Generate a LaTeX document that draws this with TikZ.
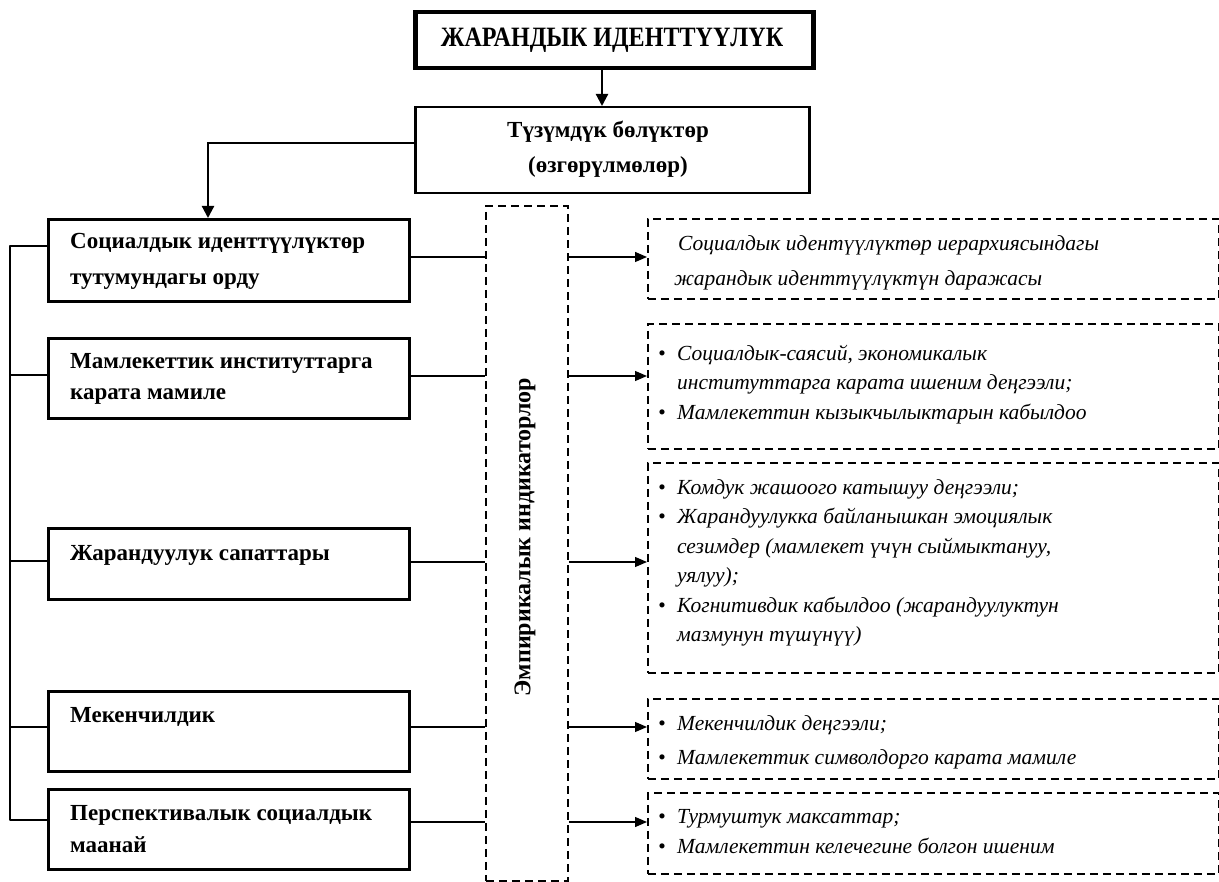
\documentclass[tikz,border=0pt]{standalone}
\usepackage{fontspec}
\setmainfont{Liberation Serif}
\usetikzlibrary{arrows.meta}
\newcommand\myblt{\makebox[19pt][l]{•}}
\newcommand\myind{\hspace*{19pt}}
\begin{document}
\begin{tikzpicture}[x=1pt,y=-1pt,
  titlebox/.style={draw, line width=4.5pt, anchor=north west, inner sep=0pt},
  subbox/.style={draw, line width=2.5pt, anchor=north west, inner sep=0pt},
  lbox/.style={draw, line width=3.2pt, anchor=north west, inner sep=0pt},
  dbox/.style={draw, line width=1.6pt, dash pattern=on 8pt off 5pt, anchor=north west, inner sep=0pt},
  ltext/.style={anchor=north west, inner sep=0pt, align=left},
  rtext/.style={anchor=north west, inner sep=0pt, align=left},
  bracket/.style={line width=2.5pt},
  conn/.style={line width=1.3pt},
  arr/.style={line width=1.3pt, -{Triangle[length=12pt,width=10pt]}},
  bigarr/.style={line width=2.2pt, -{Triangle[length=12pt,width=12pt]}}
]
\useasboundingbox[fill=white] (0,0) rectangle (1219,882);

% top boxes
\node[titlebox, minimum width=398, minimum height=56] (top) at (413,10) {};
\node[font=\bfseries\fontsize{28}{30}\selectfont] (toptxt) at (612,40) {\scalebox{0.86}[1]{ЖАРАНДЫК ИДЕНТТҮҮЛҮК}};
\node[subbox, minimum width=394, minimum height=86] (sub) at (414,106) {};
\node[align=center, font=\bfseries\fontsize{23}{35}\selectfont] (subtxt) at (608,149) {Түзүмдүк бөлүктөр\\(өзгөрүлмөлөр)};

% left boxes
\node[lbox, minimum width=361, minimum height=82] (l1) at (47,218) {};
\node[lbox, minimum width=361, minimum height=80] (l2) at (47,337) {};
\node[lbox, minimum width=361, minimum height=71] (l3) at (47,527) {};
\node[lbox, minimum width=361, minimum height=80] (l4) at (47,690) {};
\node[lbox, minimum width=361, minimum height=80] (l5) at (47,788) {};
\node[ltext, font=\bfseries\fontsize{23}{36}\selectfont] (l1t) at (70,233) {Социалдык иденттүүлүктөр\\тутумундагы орду};
\node[ltext, font=\bfseries\fontsize{23}{31}\selectfont] (l2t) at (70,353) {Мамлекеттик институттарга\\карата мамиле};
\node[ltext, font=\bfseries\fontsize{23}{31}\selectfont] (l3t) at (70,545) {Жарандуулук сапаттары};
\node[ltext, font=\bfseries\fontsize{23}{31}\selectfont] (l4t) at (70,707) {Мекенчилдик};
\node[ltext, font=\bfseries\fontsize{23}{32}\selectfont] (l5t) at (70,805) {Перспективалык социалдык\\маанай};

% middle box
\node[dbox, minimum width=82, minimum height=675] (mid) at (485,205) {};
\node[rotate=90, font=\bfseries\fontsize{24}{26}\selectfont] (midtxt) at (525,537) {Эмпирикалык индикаторлор};

% right boxes
\node[dbox, minimum width=571, minimum height=80] (r1) at (647,218) {};
\node[dbox, minimum width=571, minimum height=125] (r2) at (647,323) {};
\node[dbox, minimum width=571, minimum height=210] (r3) at (647,462) {};
\node[dbox, minimum width=571, minimum height=80] (r4) at (647,698) {};
\node[dbox, minimum width=571, minimum height=81] (r5) at (647,792) {};
\node[rtext, font=\itshape\fontsize{21.5}{35}\selectfont] (r1t) at (674,235) {\hspace*{4pt}Социалдык идентүүлүктөр иерархиясындагы\\жарандык иденттүүлүктүн даражасы};
\node[rtext, font=\itshape\fontsize{21.5}{29.5}\selectfont] (r2t) at (658,345) {\myblt Социалдык-саясий, экономикалык\\\myind институттарга карата ишеним деңгээли;\\\myblt Мамлекеттин кызыкчылыктарын кабылдоо};
\node[rtext, font=\itshape\fontsize{21.5}{29.5}\selectfont] (r3t) at (658,479) {\myblt Комдук жашоого катышуу деңгээли;\\\myblt Жарандуулукка байланышкан эмоциялык\\\myind сезимдер (мамлекет үчүн сыймыктануу,\\\myind уялуу);\\\myblt Когнитивдик кабылдоо (жарандуулуктун\\\myind мазмунун түшүнүү)};
\node[rtext, font=\itshape\fontsize{21.5}{34}\selectfont] (r4t) at (658,715) {\myblt Мекенчилдик деңгээли;\\\myblt Мамлекеттик символдорго карата мамиле};
\node[rtext, font=\itshape\fontsize{21.5}{30}\selectfont] (r5t) at (658,809) {\myblt Турмуштук максаттар;\\\myblt Мамлекеттин келечегине болгон ишеним};

% top connectors
\coordinate (c0) at (602,0);
\draw[bigarr] (c0 |- top.south) -- (c0 |- sub.north);
\coordinate (c1) at (208,143);
\draw[bigarr] (sub.west |- c1) -- (c1) -- (c1 |- l1.north);

% left bracket
\coordinate (b1) at (10,246);
\coordinate (b2) at (10,375);
\coordinate (b3) at (10,561);
\coordinate (b4) at (10,727);
\coordinate (b5) at (10,820);
\draw[bracket, line join=round] (b1 -| l1.west) -- (b1) -- (b5) -- (b5 -| l5.west);
\draw[bracket] (b2) -- (b2 -| l2.west);
\draw[bracket] (b3) -- (b3 -| l3.west);
\draw[bracket] (b4) -- (b4 -| l4.west);

% row connectors
\coordinate (y1) at (0,257);
\coordinate (y2) at (0,376);
\coordinate (y3) at (0,562);
\coordinate (y4) at (0,727);
\coordinate (y5) at (0,822);
\draw[conn] (l1.east |- y1) -- (mid.west |- y1);
\draw[conn] (l2.east |- y2) -- (mid.west |- y2);
\draw[conn] (l3.east |- y3) -- (mid.west |- y3);
\draw[conn] (l4.east |- y4) -- (mid.west |- y4);
\draw[conn] (l5.east |- y5) -- (mid.west |- y5);
\draw[arr] (mid.east |- y1) -- (r1.west |- y1);
\draw[arr] (mid.east |- y2) -- (r2.west |- y2);
\draw[arr] (mid.east |- y3) -- (r3.west |- y3);
\draw[arr] (mid.east |- y4) -- (r4.west |- y4);
\draw[arr] (mid.east |- y5) -- (r5.west |- y5);
\end{tikzpicture}
\end{document}
